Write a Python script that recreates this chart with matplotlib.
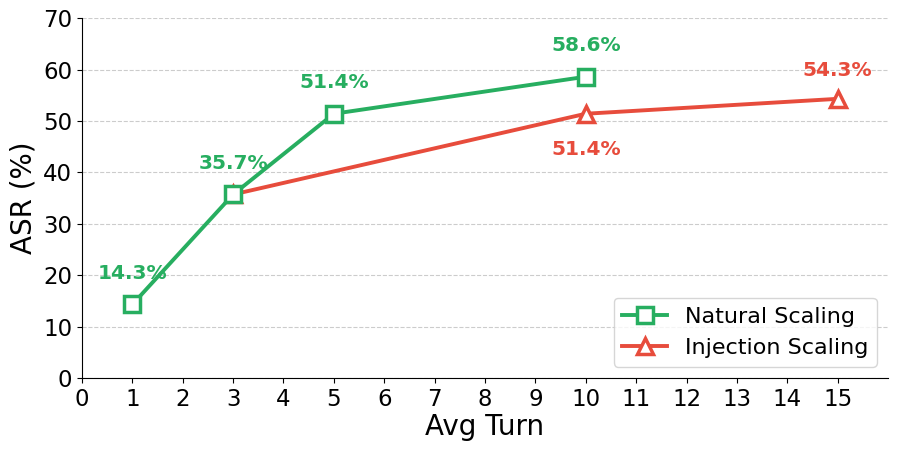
import matplotlib
matplotlib.use("Agg")
import matplotlib.pyplot as plt

nat_x = [1, 3, 5, 10]
nat_y = [14.3, 35.7, 51.4, 58.6]
inj_x = [3, 10, 15]
inj_y = [35.7, 51.4, 54.3]
nat_labels = ["14.3%", "35.7%", "51.4%", "58.6%"]
inj_labels = ["35.7%", "51.4%", "54.3%"]
green = "#27ae60"
red = "#e74c3c"

fig = plt.figure(figsize=(8.97, 4.53), dpi=100)
ax = fig.add_axes([0.0914, 0.1656, 0.8986, 0.7944])

ax.plot(inj_x, inj_y, color=red, lw=2.8, marker="^", ms=11, mfc="white",
        mec=red, mew=2.5, label="Injection Scaling", zorder=3)
ax.plot(nat_x, nat_y, color=green, lw=2.8, marker="s", ms=11, mfc="white",
        mec=green, mew=2.5, label="Natural Scaling", zorder=4)

for x, y, t in zip(nat_x, nat_y, nat_labels):
    ax.text(x, y + 6, t, color=green, fontsize=14.5, fontweight="bold",
            ha="center", va="center")
offs = [None, -7, 5.6]
for (x, y, t, o) in zip(inj_x, inj_y, inj_labels, offs):
    if o is None:
        continue
    ax.text(x, y + o, t, color=red, fontsize=14.5, fontweight="bold",
            ha="center", va="center")

ax.set_xlim(0, 16)
ax.set_ylim(0, 70)
ax.set_xticks(range(0, 16))
ax.set_yticks(range(0, 71, 10))
ax.tick_params(labelsize=16.5)
ax.set_xlabel("Avg Turn", fontsize=20, labelpad=2)
ax.set_ylabel("ASR (%)", fontsize=20)
ax.yaxis.grid(True, linestyle="--", color="#cccccc", lw=0.8)
ax.set_axisbelow(True)
ax.spines["top"].set_visible(False)
ax.spines["right"].set_visible(False)

h, l = ax.get_legend_handles_labels()
ax.legend(h[::-1], l[::-1], loc="lower right", fontsize=16)

fig.savefig("out.png", dpi=100)
